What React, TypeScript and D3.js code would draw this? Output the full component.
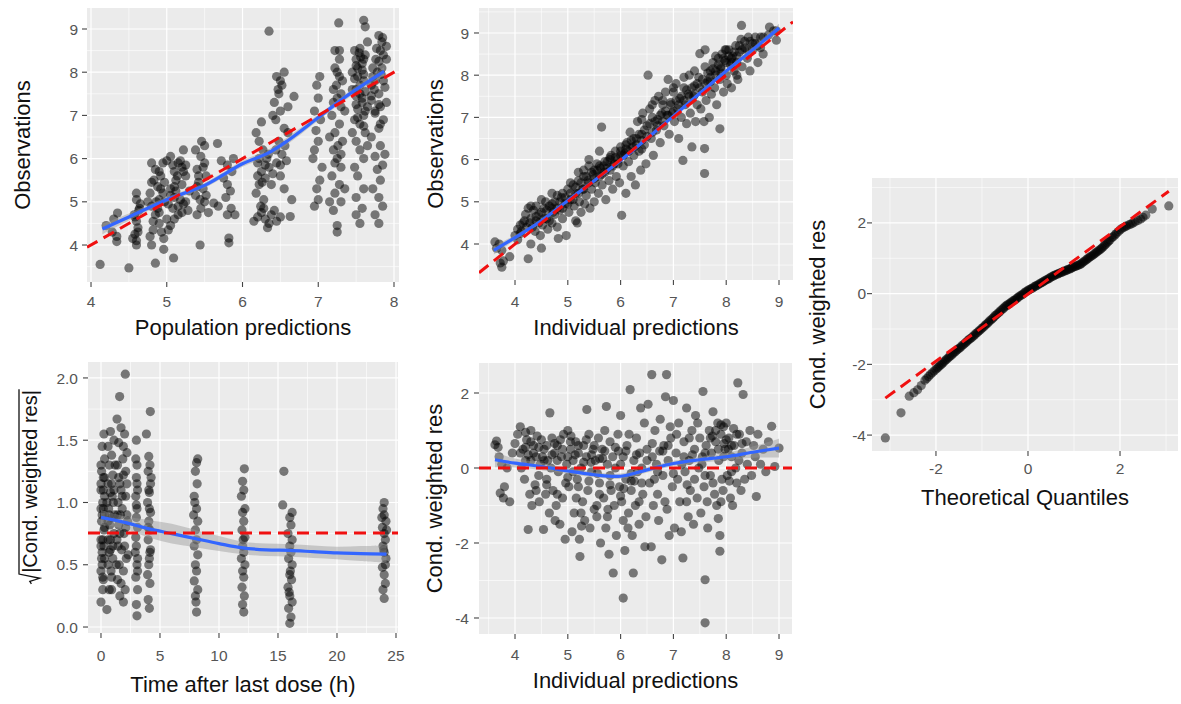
import React, { useEffect, useRef } from "react";
import * as d3 from "d3";

const FONT = '"Liberation Sans", Arial, Helvetica, sans-serif';

// ---------- Panel 1: Observations vs Population predictions ----------
const p1Points: [number, number][] = [
  [4.12,3.55],[4.5,3.47],[4.34,4.08],[4.34,4.2],[4.3,4.6],[4.35,4.74],[4.2,4.45],[4.28,4.3],
  [4.6,4.0],[4.6,4.1],[4.58,4.25],[4.62,4.4],[4.6,4.55],[4.57,4.7],[4.63,4.8],[4.6,5.2],[4.65,4.95],[4.55,4.15],
  [4.85,3.58],[4.96,3.9],[4.8,4.0],[4.78,4.2],[4.82,4.35],[4.9,4.5],[4.85,4.7],[4.8,4.9],[4.9,5.05],[4.78,5.2],
  [4.88,5.35],[4.8,5.45],[4.92,5.6],[4.85,5.75],[4.8,5.9],[4.95,5.9],[4.93,4.3],[4.96,4.15],[4.75,5.0],[4.95,5.2],[4.88,4.85],
  [5.09,3.7],[5.05,4.45],[5.1,4.6],[5.2,4.75],[5.15,4.9],[5.25,5.0],[5.1,5.1],[5.05,5.3],[5.2,5.4],[5.12,5.5],
  [5.25,5.6],[5.1,5.7],[5.2,5.8],[5.15,5.9],[5.05,6.05],[5.22,6.2],[5.3,5.25],[5.28,4.8],[5.18,5.95],[5.08,4.85],
  [5.44,4.0],[5.4,4.7],[5.45,4.85],[5.5,5.0],[5.38,5.15],[5.48,5.3],[5.42,5.45],[5.52,5.6],[5.4,5.75],[5.5,5.9],
  [5.45,6.05],[5.38,6.2],[5.46,6.4],[5.55,4.75],[5.52,5.15],
  [5.67,6.35],[5.62,4.97],[5.68,4.9],[5.82,4.16],[5.82,4.05],[5.8,4.7],[5.85,4.85],[5.78,5.1],[5.84,5.25],[5.8,5.4],
  [5.75,5.55],[5.86,5.7],[5.8,5.85],[5.88,6.0],[5.72,5.95],[5.9,4.7],
  [6.15,4.55],[6.2,4.65],[6.25,4.75],[6.3,4.6],[6.35,4.5],[6.28,4.85],[6.18,5.2],[6.22,5.4],[6.3,5.55],[6.25,5.7],
  [6.35,5.8],[6.2,5.9],[6.32,6.0],[6.27,6.2],[6.22,6.4],[6.18,6.6],[6.25,6.85],[6.38,5.4],[6.33,4.4],[6.4,5.65],
  [6.35,8.95],[6.45,4.55],[6.5,4.65],[6.42,4.8],[6.55,5.3],[6.5,5.6],[6.45,5.9],[6.52,6.1],[6.48,6.4],[6.55,6.7],
  [6.44,6.9],[6.5,7.1],[6.42,7.3],[6.48,7.5],[6.52,7.7],[6.45,7.9],[6.55,8.0],[6.6,7.2],[6.58,5.95],[6.65,5.05],
  [6.63,4.66],[6.68,7.44],[6.6,6.6],[6.4,7.0],
  [6.95,4.9],[7.0,5.05],[6.98,5.3],[7.02,5.5],[6.95,6.2],[7.0,6.4],[6.97,6.65],[7.03,6.9],[6.95,7.1],[7.0,7.4],
  [6.98,7.7],[7.02,7.9],[6.93,6.0],[7.05,5.8],
  [7.27,9.14],[7.25,4.3],[7.25,4.45],[7.2,4.8],[7.3,5.0],[7.22,5.2],[7.28,5.4],[7.18,5.6],[7.3,5.8],[7.25,6.0],
  [7.2,6.2],[7.32,6.4],[7.22,6.6],[7.28,6.8],[7.18,7.0],[7.3,7.2],[7.25,7.4],[7.2,7.6],[7.32,7.8],[7.25,8.0],
  [7.28,8.3],[7.22,8.5],[7.35,7.1],[7.15,6.5],[7.35,5.3],[7.15,5.0],
  [7.6,9.2],[7.62,9.05],[7.5,4.7],[7.55,4.5],[7.58,4.85],[7.5,5.1],[7.6,5.3],[7.52,5.6],[7.48,5.8],[7.6,6.0],
  [7.55,6.2],[7.5,6.4],[7.62,6.6],[7.55,6.8],[7.48,6.9],[7.6,7.0],[7.52,7.15],[7.58,7.3],[7.5,7.45],[7.62,7.55],
  [7.55,7.7],[7.48,7.85],[7.6,7.95],[7.52,8.1],[7.58,8.2],[7.5,8.3],[7.62,8.4],[7.55,8.55],[7.65,8.7],[7.45,8.0],
  [7.65,7.2],[7.45,7.6],[7.65,6.3],[7.45,6.6],
  [7.8,4.5],[7.75,4.7],[7.85,4.9],[7.8,5.1],[7.72,5.3],[7.82,5.5],[7.78,5.75],[7.85,5.85],[7.75,6.05],[7.82,6.3],
  [7.7,6.5],[7.8,6.7],[7.86,6.9],[7.75,7.05],[7.82,7.2],[7.7,7.35],[7.8,7.5],[7.88,7.65],[7.75,7.8],[7.83,7.95],
  [7.72,8.1],[7.8,8.25],[7.86,8.4],[7.77,8.55],[7.84,8.7],[7.8,8.85],[7.9,8.6],[7.7,7.7],[7.9,7.3],[7.88,6.1],
  [4.82,4.55],[4.9,4.75],[4.86,5.0],[4.92,5.3],[4.83,5.5],[4.9,5.7],[4.97,5.45],[5.0,4.6],[5.02,4.95],[5.05,5.15],
  [5.12,5.25],[5.18,5.05],[5.14,5.6],[5.22,5.7],[5.08,5.85],[5.0,5.95],[5.25,5.85],[5.15,4.7],[5.22,4.95],[5.02,4.35],
  [4.97,5.0],[5.1,5.35],[4.62,4.3],[4.58,4.65],[4.64,4.85],[4.6,5.05],
  [5.42,5.6],[5.48,5.8],[5.44,5.05],[5.5,6.3],[5.4,5.35],
  [6.24,4.9],[6.28,5.05],[6.2,5.6],[6.3,5.85],[6.34,6.1],[6.22,6.0],[6.26,5.45],[6.38,4.7],
  [6.47,7.6],[6.5,7.8],[6.44,6.2],[6.56,6.3],[6.5,5.85],
  [7.24,7.7],[7.28,7.9],[7.22,8.1],[7.3,7.5],[7.2,7.3],[7.26,6.3],[7.3,6.1],[7.22,5.9],[7.28,8.5],
  [7.55,7.5],[7.5,7.6],[7.6,7.8],[7.52,7.9],[7.58,8.05],[7.5,8.15],[7.6,8.3],[7.54,8.45],[7.58,7.4],[7.5,7.25],
  [7.62,7.1],[7.52,6.95],[7.6,6.75],[7.56,8.35],[7.48,8.5],
  [7.78,8.0],[7.72,7.9],[7.84,8.1],[7.76,8.3],[7.82,8.5],[7.74,7.6],[7.86,7.8],[7.7,7.45],[7.8,7.25],[7.85,8.8],
  [7.75,7.1],[7.82,6.8],[7.9,8.3]
];
const p1SmoothX = [4.15, 4.5, 5.0, 5.5, 6.0, 6.33, 6.6, 7.0, 7.4, 7.87];
const p1SmoothY = [4.37, 4.65, 5.05, 5.38, 5.88, 6.12, 6.42, 6.95, 7.48, 8.02];
const p1SmoothSE = [0.12, 0.08, 0.06, 0.06, 0.07, 0.08, 0.08, 0.07, 0.07, 0.1];

// ---------- Panel 2: Observations vs Individual predictions ----------
const p2Points: [number, number][] = [
  [3.62,4.05],[3.7,4.0],[3.75,3.85],[3.72,3.55],[3.75,3.45],[3.78,3.6],[3.65,3.9],[3.9,3.7],[4.05,4.1],[4.1,4.25],
  [4.15,4.5],[4.2,4.7],[4.25,3.65],[4.22,4.4],[4.3,4.6],[4.3,4.0],[4.35,4.8],[4.38,4.3],[4.4,4.55],[4.45,4.7],
  [4.48,4.2],[4.5,3.9],[4.52,4.45],[4.55,4.85],[4.6,4.6],[4.62,4.35],[4.65,4.9],[4.7,4.5],[4.72,4.75],[4.75,5.0],
  [4.8,4.4],[4.82,4.13],[4.85,4.8],[4.88,5.1],[4.9,4.6],[4.95,4.95],[4.97,4.2],[5.0,5.3],[5.02,4.75],[5.05,5.05],
  [5.1,5.4],[5.12,4.9],[5.15,5.2],[5.18,4.5],[5.2,5.5],[5.22,5.0],[5.25,4.75],[5.28,5.3],[5.3,5.6],[5.32,4.95],
  [5.35,5.15],[5.38,5.5],[5.4,5.85],[5.42,4.85],[5.45,5.3],[5.48,5.65],[5.5,5.0],[5.52,5.45],[5.55,5.9],[5.58,5.2],
  [5.6,5.6],[5.62,5.8],[5.64,6.77],[5.65,5.4],[5.7,5.7],[5.72,5.05],[5.75,5.95],[5.78,5.5],[5.8,5.75],[5.82,6.1],
  [5.85,5.3],[5.88,5.9],[5.9,6.2],[5.92,5.6],[5.95,6.0],[5.98,5.45],[6.0,6.3],[6.02,4.68],[6.05,5.85],[6.08,6.15],
  [6.1,5.2],[6.12,6.4],[6.15,5.95],[6.18,6.65],[6.2,5.6],[6.22,6.3],[6.25,6.1],[6.28,5.4],[6.3,6.5],[6.32,6.9],
  [6.35,6.2],[6.38,5.75],[6.4,6.6],[6.42,7.1],[6.45,6.35],[6.48,5.9],[6.5,6.8],[6.52,8.0],[6.55,7.2],[6.58,6.5],
  [6.6,7.0],[6.62,6.1],[6.65,7.4],[6.68,6.7],[6.7,6.95],[6.72,7.5],[6.75,6.4],[6.78,7.1],[6.8,7.3],[6.82,6.8],
  [6.85,7.6],[6.88,7.05],[6.9,7.9],[6.92,6.6],[6.95,7.35],[6.98,7.1],[7.0,7.6],[7.02,6.9],[7.05,7.8],[7.08,7.2],
  [7.1,6.5],[7.12,7.45],[7.15,7.0],[7.18,5.98],[7.2,7.7],[7.22,7.3],[7.25,6.85],[7.28,7.55],[7.3,8.0],[7.32,7.1],
  [7.35,6.3],[7.38,7.5],[7.4,7.75],[7.42,6.9],[7.45,7.3],[7.48,7.95],[7.5,8.51],[7.52,7.2],[7.55,7.6],[7.58,6.9],
  [7.59,5.67],[7.59,6.26],[7.6,8.6],[7.62,7.4],[7.65,7.85],[7.68,7.0],[7.7,8.1],[7.72,7.55],[7.75,8.3],[7.78,7.7],
  [7.8,8.0],[7.82,7.3],[7.85,8.4],[7.88,6.73],[7.88,7.9],[7.9,8.2],[7.92,8.5],[7.95,7.6],[7.98,8.35],[8.0,8.0],
  [8.02,7.8],[8.05,8.6],[8.08,8.25],[8.1,7.7],[8.12,8.45],[8.15,8.1],[8.18,8.7],[8.2,8.3],[8.22,7.9],[8.25,8.55],
  [8.28,8.85],[8.29,9.18],[8.3,8.2],[8.35,8.65],[8.4,8.4],[8.42,8.9],[8.45,8.1],[8.5,8.6],[8.55,8.75],[8.6,8.3],
  [8.65,8.9],[8.7,8.5],[8.82,9.14],[8.95,8.83],[8.95,9.05],[4.1,4.45],[4.25,4.85],[4.4,4.9],[4.58,5.0],[4.7,4.85],
  [4.8,5.15],[4.9,5.2],[5.05,5.45],[5.15,4.55],[5.3,5.75],[5.5,5.75],[5.68,5.85],[5.8,6.05],[6.0,6.1],[6.1,6.35],
  [6.25,6.5],[6.4,6.25],[7.7,7.85],[7.9,8.05],[8.1,8.3],[8.2,8.0],[7.98,8.6],
  [4.0,4.2],[4.05,4.35],[4.12,4.3],[4.18,4.55],[4.28,4.5],[4.33,4.4],[4.4,4.65],[4.45,4.5],[4.5,4.75],[4.55,4.6],
  [4.6,4.8],[4.65,4.55],[4.7,4.95],[4.75,4.7],[4.8,4.85],[4.85,5.0],[4.9,4.85],[4.95,5.1],[5.0,4.95],[5.05,5.2],
  [5.1,5.05],[5.15,5.35],[5.2,5.2],[5.25,5.45],[5.3,5.3],[5.35,5.6],[5.4,5.45],[5.45,5.7],[5.5,5.55],[5.55,5.75],
  [5.6,5.85],[5.65,5.65],[5.7,5.95],[5.75,5.8],[5.8,6.0],[5.85,5.85],[5.9,6.05],[5.95,5.9],[6.0,6.2],[6.05,6.1],
  [6.1,6.25],[6.15,6.2],[6.2,6.45],[6.25,6.3],[6.3,6.35],[6.35,6.6],[6.4,6.45],[6.45,6.7],[6.5,6.55],[6.55,6.85],
  [6.6,6.65],[6.65,6.9],[6.7,6.8],[6.75,7.05],[6.8,6.9],[6.85,7.15],[6.9,7.05],[6.95,7.3],[7.0,7.15],[7.05,7.4],
  [7.1,7.3],[7.15,7.5],[7.2,7.4],[7.25,7.65],[7.3,7.5],[7.35,7.7],[7.4,7.55],[7.45,7.8],[7.5,7.7],[7.55,7.9],
  [7.6,7.8],[7.65,8.05],[7.7,7.95],[7.75,8.15],[7.8,8.1],[7.85,8.25],[7.9,8.15],[7.95,8.4],[8.0,8.3],[8.05,8.45],
  [8.1,8.4],[8.15,8.55],[8.2,8.45],[8.25,8.7],[8.3,8.6],[8.35,8.8],[8.4,8.6],[8.45,8.8],[8.5,8.75],[8.55,8.9],
  [8.6,8.7],[8.65,8.65],[8.7,8.9],[8.8,8.95],[8.9,9.05],[4.3,4.9],[4.5,5.05],[4.7,5.2],[5.2,5.7],[5.4,6.0],
  [5.6,6.2],[7.0,7.7],[7.2,7.95],[7.4,8.1],[7.6,8.2],[7.8,8.45],[8.0,8.6],[6.8,7.4],[6.6,7.3],[6.4,6.95]
];
const p2SmoothX = [3.6, 4.0, 4.5, 5.0, 5.5, 6.0, 6.5, 7.0, 7.5, 8.0, 8.5, 9.0];
const p2SmoothY = [3.85, 4.15, 4.55, 5.03, 5.5, 5.98, 6.5, 7.03, 7.57, 8.1, 8.6, 9.12];
const p2SmoothSE = [0.1, 0.06, 0.04, 0.03, 0.03, 0.03, 0.03, 0.03, 0.04, 0.04, 0.06, 0.1];

// ---------- Panel 3: sqrt|CWRES| vs time after last dose ----------
const p3Points: [number, number][] = [
  [0.0,0.2],[0.5,0.14],[0.2,0.38],[0.0,0.45],[0.3,0.55],[0.1,0.6],[0.0,0.7],[0.25,0.78],[0.05,0.85],[0.3,0.9],
  [0.0,0.95],[0.15,1.0],[0.3,1.05],[0.0,1.1],[0.2,1.2],[0.05,1.25],[0.3,1.35],[0.1,1.45],[0.25,1.55],[0.0,0.65],
  [0.15,0.4],[0.1,0.5],[0.3,0.8],[0.0,1.15],[0.2,0.95],
  [0.7,0.3],[0.9,0.4],[0.6,0.5],[1.0,0.55],[0.8,0.62],[0.6,0.7],[1.1,0.75],[0.75,0.82],[0.95,0.88],[0.65,0.95],
  [1.05,1.0],[0.8,1.08],[0.6,1.15],[1.0,1.22],[0.7,1.3],[0.9,1.38],[0.6,1.45],[1.1,1.5],[0.8,1.57],[0.95,1.05],
  [0.7,0.6],[1.15,0.9],[0.85,0.45],[1.2,1.3],
  [2.06,2.03],[1.58,1.85],[1.36,1.67],[1.7,1.6],[2.0,1.55],[1.5,1.48],[2.2,1.4],[1.4,1.3],[1.9,1.22],[1.6,1.15],
  [2.1,1.05],[1.45,1.0],[1.8,0.95],[2.2,0.9],[1.5,0.82],[1.95,0.75],[1.35,0.7],[1.75,0.62],[2.15,0.55],[1.55,0.5],
  [1.9,0.45],[1.4,0.38],[2.05,0.3],[1.6,0.25],[1.9,0.2],[1.7,1.1],[2.25,0.85],[1.45,0.65],[1.85,1.35],[2.3,0.58],
  [1.65,0.9],[2.1,1.25],
  [0.15,0.7],[0.05,0.55],[0.25,0.65],[0.1,0.9],[0.2,1.1],[0.0,1.3],[0.3,1.2],[0.15,0.3],[0.8,0.7],[0.7,0.9],
  [0.9,1.15],[1.0,0.65],[0.6,0.85],[0.9,0.3],[1.1,1.1],[1.6,0.75],[1.8,1.05],[2.0,0.65],[1.5,1.2],[2.2,1.15],
  [1.7,0.35],[2.1,0.8],[1.4,0.9],[1.9,1.45],[0.5,1.0],[1.3,0.5],
  [3.05,0.09],[3.0,0.18],[3.1,0.3],[2.95,0.4],[3.05,0.5],[3.1,0.55],[3.0,0.65],[2.95,0.72],[3.1,0.8],[3.0,0.88],
  [3.05,0.95],[2.95,1.05],[3.1,1.1],[3.0,1.2],[3.05,1.3],[2.95,1.35],[3.0,1.5],[3.1,0.45],[2.9,0.6],[3.0,0.98],[3.05,1.15],
  [4.1,0.15],[4.0,0.22],[4.15,0.35],[3.95,0.42],[4.1,0.55],[4.2,0.62],[4.0,0.7],[4.15,0.78],[4.05,0.85],[4.2,0.92],
  [3.95,1.0],[4.1,1.08],[4.2,1.15],[4.0,1.25],[4.15,1.3],[4.05,1.37],[3.85,1.55],[4.18,1.73],[4.05,0.5],[4.25,1.2],
  [4.1,0.95],[4.0,0.8],[4.15,0.6],[4.05,1.1],
  [8.1,0.12],[8.0,0.25],[8.2,0.3],[7.9,0.37],[8.1,0.45],[8.0,0.5],[8.2,0.58],[7.9,0.65],[8.1,0.7],[8.0,0.78],
  [8.2,0.85],[7.85,0.9],[8.1,0.95],[7.9,1.05],[8.15,1.15],[8.0,1.25],[8.1,1.32],[8.2,1.35],[8.05,0.2],[7.95,1.0],
  [12.1,0.12],[12.0,0.18],[12.15,0.25],[11.95,0.32],[12.1,0.4],[12.0,0.45],[12.2,0.5],[11.9,0.55],[12.1,0.6],[12.0,0.65],
  [12.2,0.72],[11.95,0.78],[12.1,0.85],[12.0,0.92],[12.2,0.95],[11.9,1.05],[12.1,1.1],[12.0,1.17],[12.15,1.27],[12.05,0.7],
  [16.0,0.03],[16.1,0.08],[15.9,0.15],[16.2,0.2],[16.0,0.25],[15.85,0.32],[16.15,0.38],[16.0,0.42],[16.2,0.5],[15.9,0.55],
  [16.1,0.6],[16.0,0.65],[16.2,0.7],[15.85,0.75],[16.1,0.82],[16.0,0.88],[16.2,0.92],[15.4,0.98],[15.5,1.25],[16.05,0.45],
  [15.95,0.28],
  [24.0,0.23],[23.9,0.3],[24.1,0.35],[24.0,0.42],[23.85,0.48],[24.15,0.55],[24.0,0.6],[23.9,0.65],[24.1,0.7],[24.0,0.75],
  [23.85,0.8],[24.15,0.85],[24.0,0.9],[23.9,0.95],[24.0,1.0],[24.1,0.5],[23.95,0.62],[24.2,0.78],[23.8,0.88]
];
const p3SmoothX = [0, 2, 4, 6, 8, 10, 12, 14, 16, 18, 20, 22, 24.2];
const p3SmoothY = [0.88, 0.84, 0.79, 0.75, 0.71, 0.67, 0.635, 0.62, 0.615, 0.605, 0.595, 0.59, 0.585];
const p3SmoothSE = [0.06, 0.05, 0.07, 0.08, 0.07, 0.06, 0.05, 0.05, 0.05, 0.05, 0.05, 0.06, 0.07];
const p3RefLevel = 0.755;

// ---------- Panel 4: CWRES vs Individual predictions ----------
const p4Points: [number, number][] = [
  [3.62,0.62],[3.68,0.55],[3.7,0.3],[3.72,-0.67],[3.78,-0.8],[3.9,-0.9],[3.75,0.1],[3.85,0.0],[3.95,0.4],[3.65,0.72],[3.8,-0.5],
  [4.05,0.9],[4.1,1.1],[4.15,0.5],[4.2,0.2],[4.25,-1.64],[4.18,-0.3],[4.22,0.75],[4.3,1.0],[4.35,0.6],[4.28,-0.7],
  [4.4,0.3],[4.45,-0.2],[4.38,-0.45],[4.42,0.85],[4.48,0.1],[4.32,-1.0],[4.12,0.0],[4.46,-0.9],[4.25,0.35],
  [4.54,-1.64],[4.66,1.47],[4.55,0.5],[4.6,-0.3],[4.62,0.2],[4.65,-1.2],[4.7,0.8],[4.72,-0.6],[4.75,0.4],[4.78,-1.0],
  [4.8,0.6],[4.82,-0.1],[4.85,-1.5],[4.88,0.3],[4.9,-0.8],[4.92,0.9],[4.95,-1.9],[4.98,0.1],[4.58,-0.7],[4.68,0.0],
  [4.76,-1.4],[4.86,0.75],[4.96,-0.4],[4.52,0.3],
  [5.0,1.0],[5.02,-0.5],[5.05,0.5],[5.08,-1.7],[5.1,0.2],[5.12,-1.2],[5.15,0.7],[5.18,-0.3],[5.2,0.4],[5.22,-1.9],
  [5.23,-2.36],[5.25,0.0],[5.28,-0.9],[5.3,0.6],[5.32,-1.4],[5.35,0.3],[5.36,1.56],[5.38,-0.6],[5.4,0.9],[5.42,-1.6],
  [5.45,-0.1],[5.48,0.5],[5.5,-1.1],[5.06,0.85],[5.16,-0.8],[5.26,-1.55],[5.44,0.15],[5.14,0.35],
  [5.52,0.2],[5.55,-1.3],[5.58,0.8],[5.6,-0.4],[5.62,-2.0],[5.65,0.5],[5.68,-0.8],[5.7,1.0],[5.73,1.64],[5.72,-1.6],
  [5.75,0.1],[5.78,-2.3],[5.8,0.7],[5.82,-0.6],[5.85,0.3],[5.86,-2.8],[5.88,-1.0],[5.9,0.0],[5.92,-1.8],[5.95,0.9],
  [5.98,-0.5],[5.56,-0.15],[5.66,0.25],[5.76,-1.1],[5.96,0.45],
  [6.0,1.4],[6.02,-0.9],[6.05,-3.47],[6.05,0.3],[6.08,-2.2],[6.1,-0.3],[6.12,0.6],[6.15,-1.2],[6.18,2.09],[6.2,-0.6],
  [6.22,-1.8],[6.24,-2.8],[6.25,0.2],[6.28,-1.0],[6.3,0.8],[6.32,-0.1],[6.35,-1.5],[6.38,1.6],[6.4,0.0],[6.42,-0.7],
  [6.45,1.2],[6.48,-1.3],[6.5,0.5],[6.06,-0.55],[6.16,0.9],[6.26,-0.35],[6.36,0.4],[6.46,-2.1],[6.14,-1.6],
  [6.52,1.7],[6.55,-0.4],[6.58,-2.1],[6.59,2.49],[6.6,0.3],[6.62,-1.0],[6.65,1.0],[6.68,0.1],[6.7,-0.7],[6.72,-1.4],
  [6.75,1.3],[6.78,-2.45],[6.8,-0.2],[6.82,0.6],[6.85,1.9],[6.87,2.49],[6.88,-1.1],[6.9,0.2],[6.92,-1.8],[6.95,0.8],
  [6.98,-0.5],[6.64,-0.3],[6.74,0.45],[6.84,-0.9],[6.94,1.1],
  [7.0,1.8],[7.02,-1.6],[7.05,0.4],[7.08,-0.3],[7.1,1.2],[7.12,-0.9],[7.15,-1.7],[7.18,-2.4],[7.2,0.7],[7.22,-0.1],
  [7.25,1.6],[7.28,-1.3],[7.3,0.2],[7.32,-0.6],[7.35,1.0],[7.38,-1.5],[7.4,0.5],[7.42,1.4],[7.45,-0.8],[7.48,0.0],
  [7.06,0.9],[7.16,0.1],[7.26,-0.45],[7.36,0.35],[7.46,1.2],
  [7.5,0.8],[7.52,-1.2],[7.55,0.3],[7.56,2.04],[7.58,-0.5],[7.6,-2.98],[7.6,-4.13],[7.62,0.6],[7.65,-1.6],[7.68,1.0],
  [7.7,-0.2],[7.72,0.4],[7.75,1.5],[7.78,-0.7],[7.8,0.7],[7.82,-1.0],[7.84,1.2],[7.86,0.2],[7.88,-2.22],[7.88,-1.8],
  [7.9,0.9],[7.92,-0.3],[7.95,1.1],[7.98,0.5],[7.54,0.1],[7.64,-0.9],[7.74,0.85],[7.94,-0.6],[7.96,0.65],[7.85,-1.35],
  [8.0,1.2],[8.02,-0.2],[8.05,0.8],[8.08,-0.8],[8.1,0.3],[8.12,-1.0],[8.15,0.6],[8.18,0.0],[8.2,-0.4],[8.22,2.27],
  [8.25,0.9],[8.28,-0.6],[8.3,0.4],[8.32,1.96],[8.35,-0.3],[8.38,0.7],[8.4,0.1],[8.45,1.0],[8.48,-0.2],[8.04,0.5],
  [8.14,1.05],[8.24,0.2],[8.06,-0.35],
  [8.52,0.6],[8.55,0.3],[8.57,-0.76],[8.6,0.9],[8.65,0.1],[8.7,0.5],[8.75,-0.1],[8.8,0.7],[8.86,1.11],[8.92,0.04],[9.0,0.53],
  [4.2,0.55],[4.3,0.7],[4.35,0.4],[4.45,0.55],[4.5,0.75],[4.55,0.2],[4.6,0.6],[4.7,0.35],[4.75,0.65],[4.8,0.2],
  [4.9,0.5],[5.0,0.3],[5.05,0.7],[5.1,-0.1],[5.2,0.6],[5.3,0.15],[5.35,0.75],[5.45,0.35],[5.5,0.6],[5.6,0.25],
  [5.7,0.45],[5.8,-0.2],[5.9,0.55],[6.0,0.1],[6.1,0.45],[6.2,-0.15],[6.3,0.35],[6.4,-0.4],[4.4,-0.6],[4.6,-0.45],
  [4.8,-0.7],[5.0,-0.25],[5.2,-0.5],[5.4,-0.35],[5.6,-0.7],[5.8,-0.45],[6.0,-0.75],[6.2,-0.35],[6.6,0.65],[6.8,0.45],
  [7.0,-0.15],[7.2,0.3],[7.4,-0.3],[7.6,0.4],[7.7,0.8],[7.8,1.0],[7.85,0.5],[7.9,1.15],[7.95,0.3],[8.0,0.75],
  [8.1,0.6],[8.2,0.9],[8.3,0.65],[8.1,-0.1],[7.75,-0.4],[7.6,-0.2],[7.3,0.8],[6.9,0.6],[6.7,-0.1],[6.5,0.2],
  [4.3,0.2],[4.1,0.4],[4.0,0.65],[4.2,0.95],[5.55,-1.0],[5.25,-1.2],[6.35,-0.9],[7.25,-0.9],[7.9,-0.9],[5.75,-1.3],[6.05,-1.4]
];
const p4SmoothX = [3.62, 4.0, 4.5, 5.0, 5.5, 6.0, 6.5, 7.0, 7.5, 8.0, 8.5, 9.0];
const p4SmoothY = [0.22, 0.13, 0.04, -0.08, -0.18, -0.22, -0.05, 0.12, 0.22, 0.3, 0.42, 0.53];
const p4SmoothSE = [0.2, 0.12, 0.1, 0.08, 0.07, 0.07, 0.07, 0.07, 0.08, 0.1, 0.15, 0.25];

// ---------- Panel 5: QQ plot of CWRES ----------
const qqTheoretical = [
  -3.1,-2.76,-2.58,-2.48,-2.4,-2.32,-2.24,-2.2,-2.16,-2.12,-2.08,-2.04,-2.0,-1.97,-1.94,-1.91,-1.88,-1.85,-1.82,-1.79,
  -1.76,-1.73,-1.7,-1.67,-1.64,-1.61,-1.58,-1.55,-1.52,-1.49,-1.46,-1.43,-1.4,-1.37,-1.34,-1.31,-1.28,-1.25,-1.22,-1.19,
  -1.16,-1.13,-1.1,-1.07,-1.04,-1.01,-0.98,-0.95,-0.92,-0.89,-0.86,-0.83,-0.8,-0.77,-0.74,-0.71,-0.68,-0.65,-0.62,-0.59,
  -0.56,-0.53,-0.5,-0.47,-0.44,-0.41,-0.38,-0.35,-0.32,-0.29,-0.26,-0.23,-0.2,-0.17,-0.14,-0.11,-0.08,-0.05,-0.02,0.01,
  0.04,0.07,0.1,0.13,0.16,0.19,0.22,0.25,0.28,0.31,0.34,0.37,0.4,0.43,0.46,0.49,0.52,0.55,0.58,0.61,
  0.64,0.67,0.7,0.73,0.76,0.79,0.82,0.85,0.88,0.91,0.94,0.97,1.0,1.03,1.06,1.09,1.12,1.15,1.18,1.21,
  1.24,1.27,1.3,1.33,1.36,1.39,1.42,1.45,1.48,1.51,1.54,1.57,1.6,1.63,1.66,1.69,1.72,1.75,1.78,1.82,
  1.85,1.89,1.92,1.96,2.0,2.04,2.08,2.12,2.15,2.2,2.24,2.28,2.33,2.39,2.45,2.5,2.56,2.7,3.06
];
const qqSample = [
  -4.08,-3.37,-2.9,-2.8,-2.72,-2.6,-2.45,-2.4,-2.34,-2.29,-2.24,-2.19,-2.14,-2.1,-2.07,-2.03,-2.0,-1.96,-1.92,-1.88,
  -1.85,-1.81,-1.78,-1.75,-1.71,-1.67,-1.64,-1.6,-1.57,-1.54,-1.51,-1.47,-1.44,-1.4,-1.37,-1.33,-1.3,-1.27,-1.24,-1.2,
  -1.17,-1.13,-1.1,-1.06,-1.03,-0.99,-0.96,-0.92,-0.88,-0.85,-0.81,-0.77,-0.74,-0.7,-0.66,-0.62,-0.59,-0.55,-0.52,-0.48,
  -0.44,-0.41,-0.37,-0.34,-0.31,-0.29,-0.26,-0.23,-0.2,-0.18,-0.15,-0.12,-0.09,-0.06,-0.04,-0.01,0.02,0.05,0.07,0.1,
  0.12,0.14,0.16,0.19,0.21,0.23,0.25,0.28,0.3,0.32,0.34,0.37,0.39,0.41,0.43,0.46,0.48,0.5,0.52,0.54,
  0.55,0.57,0.59,0.6,0.62,0.64,0.65,0.67,0.69,0.7,0.72,0.74,0.76,0.77,0.79,0.8,0.82,0.84,0.87,0.9,
  0.93,0.96,0.99,1.02,1.05,1.07,1.1,1.13,1.16,1.19,1.22,1.25,1.28,1.32,1.36,1.4,1.44,1.48,1.52,1.58,
  1.61,1.66,1.7,1.75,1.8,1.84,1.87,1.9,1.92,1.95,1.97,2.0,2.03,2.07,2.11,2.16,2.22,2.39,2.48
];
const qqLineIntercept = -0.01;
const qqLineSlope = 0.95;

type Cfg = {
  id: string;
  l: number; r: number; t: number; b: number;
  xd: [number, number]; yd: [number, number];
  xMajor: number[]; xMinor: number[]; yMajor: number[]; yMinor: number[];
  xFmt: (v: number) => string; yFmt: (v: number) => string;
  pts: [number, number][];
  smooth?: { x: number[]; y: number[]; se: number[] };
  ref: [[number, number], [number, number]];
  xTitle: string; yTitle: string; radical?: boolean;
  xLabBase: number; xTitleBase: number; yLabRight: number; yTitleBase: number; yTitleCenter?: number;
};

const fmtInt = (v: number) => String(v);
const fmt1 = (v: number) => v.toFixed(1);

function drawPanel(root: d3.Selection<SVGSVGElement, unknown, null, undefined>, c: Cfg) {
  const x = d3.scaleLinear().domain(c.xd).range([c.l, c.r]);
  const y = d3.scaleLinear().domain(c.yd).range([c.b, c.t]);
  const g = root.append("g");
  const clipId = "clip-" + c.id;
  root.append("defs").append("clipPath").attr("id", clipId)
    .append("rect").attr("x", c.l).attr("y", c.t).attr("width", c.r - c.l).attr("height", c.b - c.t);

  g.append("rect").attr("x", c.l).attr("y", c.t).attr("width", c.r - c.l).attr("height", c.b - c.t).attr("fill", "#EBEBEB");

  const grid = g.append("g").attr("stroke", "#FFFFFF");
  c.xMinor.forEach(v => grid.append("line").attr("x1", x(v)).attr("x2", x(v)).attr("y1", c.t).attr("y2", c.b).attr("stroke-width", 0.6));
  c.yMinor.forEach(v => grid.append("line").attr("y1", y(v)).attr("y2", y(v)).attr("x1", c.l).attr("x2", c.r).attr("stroke-width", 0.6));
  c.xMajor.forEach(v => grid.append("line").attr("x1", x(v)).attr("x2", x(v)).attr("y1", c.t).attr("y2", c.b).attr("stroke-width", 1.2));
  c.yMajor.forEach(v => grid.append("line").attr("y1", y(v)).attr("y2", y(v)).attr("x1", c.l).attr("x2", c.r).attr("stroke-width", 1.2));

  const plot = g.append("g").attr("clip-path", `url(#${clipId})`);
  plot.append("g").selectAll("circle").data(c.pts).join("circle")
    .attr("cx", d => x(d[0])).attr("cy", d => y(d[1])).attr("r", 4.6)
    .attr("fill", "#000").attr("fill-opacity", 0.5);

  if (c.smooth) {
    const s = c.smooth;
    const rows = s.x.map((xv, i) => ({ x: xv, y: s.y[i], lo: s.y[i] - s.se[i], hi: s.y[i] + s.se[i] }));
    const area = d3.area<any>().x(d => x(d.x)).y0(d => y(d.lo)).y1(d => y(d.hi)).curve(d3.curveCatmullRom);
    const line = d3.line<any>().x(d => x(d.x)).y(d => y(d.y)).curve(d3.curveCatmullRom);
    plot.append("path").attr("d", area(rows)).attr("fill", "#999999").attr("fill-opacity", 0.45);
    plot.append("path").attr("d", line(rows)).attr("fill", "none").attr("stroke", "#3366FF").attr("stroke-width", 3.2);
  }

  plot.append("line")
    .attr("x1", x(c.ref[0][0])).attr("y1", y(c.ref[0][1]))
    .attr("x2", x(c.ref[1][0])).attr("y2", y(c.ref[1][1]))
    .attr("stroke", "#F01010").attr("stroke-width", 3).attr("stroke-dasharray", "12,7");

  const ax = g.append("g");
  c.xMajor.forEach(v => {
    ax.append("line").attr("x1", x(v)).attr("x2", x(v)).attr("y1", c.b).attr("y2", c.b + 5).attr("stroke", "#444").attr("stroke-width", 1.1);
    ax.append("text").attr("x", x(v)).attr("y", c.xLabBase).attr("text-anchor", "middle")
      .attr("font-family", FONT).attr("font-size", 15.5).attr("fill", "#555").text(c.xFmt(v));
  });
  c.yMajor.forEach(v => {
    ax.append("line").attr("x1", c.l - 5).attr("x2", c.l).attr("y1", y(v)).attr("y2", y(v)).attr("stroke", "#444").attr("stroke-width", 1.1);
    ax.append("text").attr("x", c.yLabRight).attr("y", y(v)).attr("dy", "0.36em").attr("text-anchor", "end")
      .attr("font-family", FONT).attr("font-size", 15.5).attr("fill", "#555").text(c.yFmt(v));
  });

  ax.append("text").attr("x", (c.l + c.r) / 2).attr("y", c.xTitleBase).attr("text-anchor", "middle")
    .attr("font-family", FONT).attr("font-size", 22).attr("fill", "#111").text(c.xTitle);

  const cy = c.yTitleCenter ?? (c.t + c.b) / 2;
  const tg = ax.append("g").attr("transform", `translate(${c.yTitleBase},${cy}) rotate(-90)`);
  if (!c.radical) {
    tg.append("text").attr("x", 0).attr("y", 0).attr("text-anchor", "middle")
      .attr("font-family", FONT).attr("font-size", 22).attr("fill", "#111").text(c.yTitle);
  } else {
    const fs = 20;
    const txt = tg.append("text").attr("x", 0).attr("y", 0)
      .attr("font-family", FONT).attr("font-size", fs).attr("fill", "#111").text(c.yTitle);
    const tl = (txt.node() as SVGTextElement).getComputedTextLength();
    const rw = fs * 0.55;
    const total = rw + tl;
    const sx = -total / 2;
    txt.attr("x", sx + rw);
    const top = -fs * 0.9;
    tg.append("path")
      .attr("d", `M${sx},${-fs * 0.28} L${sx + fs * 0.12},${-fs * 0.36} L${sx + fs * 0.28},${fs * 0.14} L${sx + rw - fs * 0.06},${top} L${sx + total + 1},${top}`)
      .attr("fill", "none").attr("stroke", "#111").attr("stroke-width", 1.3);
  }
}

export default function App() {
  const ref = useRef<SVGSVGElement>(null);
  useEffect(() => {
    if (!ref.current) return;
    const root = d3.select(ref.current);
    root.selectAll("*").remove();
    const qMin = d3.min(qqTheoretical)!;
    const qMax = d3.max(qqTheoretical)!;

    const cfgs: Cfg[] = [
      {
        id: "p1", l: 87, r: 399, t: 8, b: 282, xd: [3.947, 8.066], yd: [3.144, 9.486],
        xMajor: [4, 5, 6, 7, 8], xMinor: [4.5, 5.5, 6.5, 7.5],
        yMajor: [4, 5, 6, 7, 8, 9], yMinor: [3.5, 4.5, 5.5, 6.5, 7.5, 8.5],
        xFmt: fmtInt, yFmt: fmtInt, pts: p1Points,
        smooth: { x: p1SmoothX, y: p1SmoothY, se: p1SmoothSE },
        ref: [[3.947, 3.947], [8.066, 8.066]],
        xTitle: "Population predictions", yTitle: "Observations",
        xLabBase: 307, xTitleBase: 335, yLabRight: 78, yTitleBase: 30
      },
      {
        id: "p2", l: 479, r: 793, t: 8, b: 280, xd: [3.318, 9.265], yd: [3.147, 9.592],
        xMajor: [4, 5, 6, 7, 8, 9], xMinor: [3.5, 4.5, 5.5, 6.5, 7.5, 8.5],
        yMajor: [4, 5, 6, 7, 8, 9], yMinor: [3.5, 4.5, 5.5, 6.5, 7.5, 8.5, 9.5],
        xFmt: fmtInt, yFmt: fmtInt, pts: p2Points,
        smooth: { x: p2SmoothX, y: p2SmoothY, se: p2SmoothSE },
        ref: [[3.318, 3.318], [9.265, 9.265]],
        xTitle: "Individual predictions", yTitle: "Observations",
        xLabBase: 307, xTitleBase: 335, yLabRight: 469, yTitleBase: 443
      },
      {
        id: "p3", l: 88, r: 398, t: 362, b: 633, xd: [-1.1, 25.17], yd: [-0.048, 2.128],
        xMajor: [0, 5, 10, 15, 20, 25], xMinor: [2.5, 7.5, 12.5, 17.5, 22.5],
        yMajor: [0, 0.5, 1, 1.5, 2], yMinor: [0.25, 0.75, 1.25, 1.75],
        xFmt: fmtInt, yFmt: fmt1, pts: p3Points,
        smooth: { x: p3SmoothX, y: p3SmoothY, se: p3SmoothSE },
        ref: [[-1.1, p3RefLevel], [25.17, p3RefLevel]],
        xTitle: "Time after last dose (h)", yTitle: "|Cond. weighted res|", radical: true,
        xLabBase: 661, xTitleBase: 692, yLabRight: 78, yTitleBase: 37, yTitleCenter: 487
      },
      {
        id: "p4", l: 479, r: 792, t: 363, b: 634, xd: [3.318, 9.246], yd: [-4.427, 2.8],
        xMajor: [4, 5, 6, 7, 8, 9], xMinor: [3.5, 4.5, 5.5, 6.5, 7.5, 8.5],
        yMajor: [-4, -2, 0, 2], yMinor: [-3, -1, 1],
        xFmt: fmtInt, yFmt: fmtInt, pts: p4Points,
        smooth: { x: p4SmoothX, y: p4SmoothY, se: p4SmoothSE },
        ref: [[3.318, 0], [9.246, 0]],
        xTitle: "Individual predictions", yTitle: "Cond. weighted res",
        xLabBase: 660, xTitleBase: 688, yLabRight: 469, yTitleBase: 442
      },
      {
        id: "p5", l: 872, r: 1178, t: 178, b: 451, xd: [-3.39, 3.26], yd: [-4.45, 3.27],
        xMajor: [-2, 0, 2], xMinor: [-3, -1, 1, 3],
        yMajor: [-4, -2, 0, 2], yMinor: [-3, -1, 1, 3],
        xFmt: fmtInt, yFmt: fmtInt, pts: qqTheoretical.map((q, i) => [q, qqSample[i]] as [number, number]),
        ref: [
          [qMin, qqLineIntercept + qqLineSlope * qMin],
          [qMax, qqLineIntercept + qqLineSlope * qMax]
        ],
        xTitle: "Theoretical Quantiles", yTitle: "Cond. weighted res",
        xLabBase: 474, xTitleBase: 505, yLabRight: 866, yTitleBase: 825
      }
    ];
    cfgs.forEach(c => drawPanel(root as any, c));
  }, []);

  return (
    <svg ref={ref} width={1181} height={704}
      style={{ position: "absolute", left: 0, top: 0, background: "#FFFFFF", display: "block" }} />
  );
}
